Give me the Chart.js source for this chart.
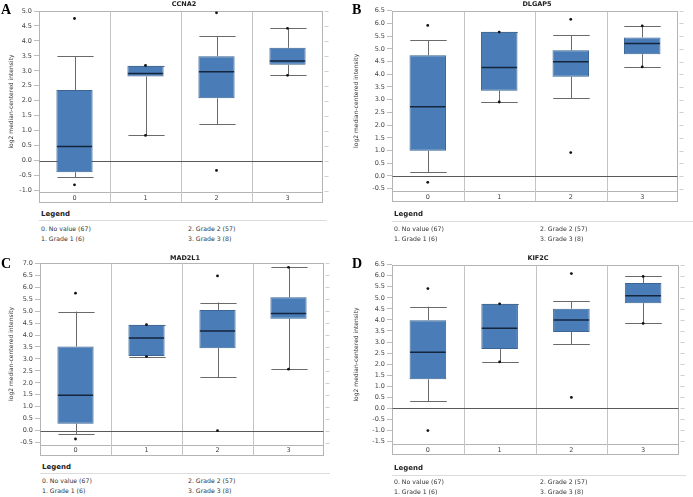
<!DOCTYPE html>
<html><head><meta charset="utf-8">
<script src="https://cdn.jsdelivr.net/npm/chart.js@4/dist/chart.umd.min.js"></script>
<style>
body{margin:0;background:#fff;width:693px;height:497px;overflow:hidden;position:relative;font-family:"DejaVu Sans",sans-serif;}
canvas{position:absolute;}
.letter{position:absolute;font-family:"Liberation Serif",serif;font-weight:bold;font-size:14px;line-height:14px;color:#000;}
.title{position:absolute;font-weight:bold;font-size:6.5px;color:#222;transform:translateX(-50%);white-space:nowrap;line-height:8px;}
.leghead{position:absolute;font-weight:bold;font-size:7px;color:#222;line-height:8px;white-space:nowrap;}
.legline{position:absolute;height:1px;background:#dcdcdc;}
.legitem{position:absolute;font-size:6.2px;color:#333;line-height:8px;white-space:nowrap;}
</style></head>
<body>
<script>
// ---------- data ----------
const categories = ['0', '1', '2', '3'];
const legendLabels = ['0. No value (67)', '1. Grade 1 (6)', '2. Grade 2 (57)', '3. Grade 3 (8)'];
const yAxisTitle = 'log2 median-centered intensity';
const geneNames = ['CCNA2', 'DLGAP5', 'MAD2L1', 'KIF2C'];
const panelLetters = ['A', 'B', 'C', 'D'];

// CCNA2
const ccna2Max    = [4.75, 3.18, 4.94, 4.42];
const ccna2Upper  = [3.48, 3.17, 4.15, 4.42];
const ccna2Q3     = [2.36, 3.17, 3.49, 3.77];
const ccna2Median = [0.47, 2.91, 2.97, 3.33];
const ccna2Q1     = [-0.39, 2.81, 2.08, 3.20];
const ccna2Lower  = [-0.55, 0.84, 1.21, 2.85];
const ccna2Min    = [-0.81, 0.84, -0.33, 2.85];

// DLGAP5
const dlgap5Max    = [5.92, 5.66, 6.16, 5.90];
const dlgap5Upper  = [5.34, 5.67, 5.53, 5.90];
const dlgap5Q3     = [4.75, 5.67, 4.94, 5.45];
const dlgap5Median = [2.72, 4.27, 4.49, 5.21];
const dlgap5Q1     = [0.99, 3.35, 3.90, 4.79];
const dlgap5Lower  = [0.16, 2.91, 3.06, 4.29];
const dlgap5Min    = [-0.25, 2.91, 0.92, 4.29];

// MAD2L1
const mad2l1Max    = [5.75, 4.43, 6.47, 6.83];
const mad2l1Upper  = [4.98, 4.43, 5.36, 6.83];
const mad2l1Q3     = [3.52, 4.43, 5.05, 5.58];
const mad2l1Median = [1.48, 3.87, 4.17, 4.90];
const mad2l1Q1     = [0.29, 3.12, 3.45, 4.68];
const mad2l1Lower  = [-0.14, 3.10, 2.23, 2.57];
const mad2l1Min    = [-0.35, 3.10, 0.00, 2.57];

// KIF2C
const kif2cMax    = [5.42, 4.73, 6.10, 5.97];
const kif2cUpper  = [4.60, 4.73, 4.85, 5.97];
const kif2cQ3     = [3.99, 4.73, 4.51, 5.67];
const kif2cMedian = [2.54, 3.62, 4.00, 5.09];
const kif2cQ1     = [1.31, 2.68, 3.45, 4.76];
const kif2cLower  = [0.31, 2.10, 2.90, 3.84];
const kif2cMin    = [-1.01, 2.10, 0.49, 3.84];

// y-axis ranges
const yMins = [-1.05, -0.59, -0.58, -1.63];
const yMaxs = [5.0, 6.5, 7.0, 6.5];

// ---------- layout (styling only) ----------
const layouts = [
  {ox:0,   oy:0,   left:39,  right:323, top:11,    bottom:203, letterX:1,   letterY:3,   titleX:184, titleY:0,
   legY:210, lineY:220, lineR:327, itemY1:225, itemY2:235, col2:188},
  {ox:345, oy:0,   left:392, right:678, top:10.7,  bottom:202, letterX:352, letterY:3,   titleX:537, titleY:0,
   legY:210, lineY:220.5, lineR:693, itemY1:225, itemY2:235, col2:540},
  {ox:0,   oy:248, left:40,  right:324, top:263.3, bottom:455.5, letterX:1, letterY:257, titleX:185, titleY:254,
   legY:463, lineY:473, lineR:330, itemY1:477, itemY2:487, col2:188},
  {ox:345, oy:248, left:392, right:679, top:264.7, bottom:455.3, letterX:352, letterY:257, titleX:538, titleY:254,
   legY:464, lineY:474.5, lineR:686, itemY1:478, itemY2:488, col2:540}
];
const ROW_H = 11;

const stats = [
  {max:ccna2Max, upper:ccna2Upper, q3:ccna2Q3, median:ccna2Median, q1:ccna2Q1, lower:ccna2Lower, min:ccna2Min},
  {max:dlgap5Max, upper:dlgap5Upper, q3:dlgap5Q3, median:dlgap5Median, q1:dlgap5Q1, lower:dlgap5Lower, min:dlgap5Min},
  {max:mad2l1Max, upper:mad2l1Upper, q3:mad2l1Q3, median:mad2l1Median, q1:mad2l1Q1, lower:mad2l1Lower, min:mad2l1Min},
  {max:kif2cMax, upper:kif2cUpper, q3:kif2cQ3, median:kif2cMedian, q1:kif2cQ1, lower:kif2cLower, min:kif2cMin}
];

const FONT = '"DejaVu Sans", sans-serif';

const boxPlugin = {
  id: 'boxplotDecor',
  beforeDatasetsDraw(chart, args, opts) {
    const {ctx, chartArea: a, scales: {x, y}} = chart;
    const s = opts.stats;
    const meta = chart.getDatasetMeta(2);
    ctx.save();
    ctx.lineWidth = 1;
    // frame
    ctx.strokeStyle = '#b4b4b4';
    const fb = Math.round(x.bottom) - 0.5;
    const L = Math.round(a.left) + 0.5, R = Math.round(a.right) - 0.5, T = Math.round(a.top) + 0.5;
    ctx.strokeRect(L, T, R - L, fb - T);
    // category row separator
    const sep = Math.round(a.bottom) + 0.5;
    ctx.beginPath(); ctx.moveTo(L, sep); ctx.lineTo(R, sep); ctx.stroke();
    // category dividers
    ctx.strokeStyle = '#c4c4c4';
    for (let i = 0; i < categories.length - 1; i++) {
      const px = Math.round((x.getPixelForValue(i) + x.getPixelForValue(i + 1)) / 2) + 0.5;
      ctx.beginPath(); ctx.moveTo(px, T); ctx.lineTo(px, fb); ctx.stroke();
    }
    // right-side tick marks
    ctx.strokeStyle = '#cfcfcf';
    y.ticks.forEach(t => {
      const py = Math.round(y.getPixelForValue(t.value)) + 0.5;
      ctx.beginPath(); ctx.moveTo(R + 2, py); ctx.lineTo(R + 6, py); ctx.stroke();
    });
    // zero line
    const zy = Math.round(y.getPixelForValue(0)) + 0.5;
    ctx.strokeStyle = '#5a5a5a';
    ctx.beginPath(); ctx.moveTo(L, zy); ctx.lineTo(R, zy); ctx.stroke();
    // whiskers and caps
    ctx.strokeStyle = '#6a6a6a';
    for (let i = 0; i < categories.length; i++) {
      const cx = Math.round(x.getPixelForValue(i)) + 0.5;
      const hw = meta.data[i].width / 2;
      const yU = y.getPixelForValue(s.upper[i]), yQ3 = y.getPixelForValue(s.q3[i]);
      const yLo = y.getPixelForValue(s.lower[i]), yQ1 = y.getPixelForValue(s.q1[i]);
      ctx.beginPath();
      ctx.moveTo(cx, yQ3); ctx.lineTo(cx, yU);
      ctx.moveTo(cx, yQ1); ctx.lineTo(cx, yLo);
      ctx.moveTo(cx - hw, Math.round(yU) + 0.5); ctx.lineTo(cx + hw, Math.round(yU) + 0.5);
      ctx.moveTo(cx - hw, Math.round(yLo) + 0.5); ctx.lineTo(cx + hw, Math.round(yLo) + 0.5);
      ctx.stroke();
    }
    ctx.restore();
  },
  afterDatasetsDraw(chart, args, opts) {
    const {ctx, scales: {x, y}} = chart;
    const s = opts.stats;
    const meta = chart.getDatasetMeta(2);
    ctx.save();
    ctx.strokeStyle = '#14253d';
    ctx.lineWidth = 1.5;
    for (let i = 0; i < categories.length; i++) {
      const cx = x.getPixelForValue(i);
      const hw = meta.data[i].width / 2 - 0.5;
      const ym = y.getPixelForValue(s.median[i]);
      ctx.beginPath(); ctx.moveTo(cx - hw, ym); ctx.lineTo(cx + hw, ym); ctx.stroke();
    }
    ctx.restore();
  }
};

function makePanel(idx) {
  const L = layouts[idx];
  const s = stats[idx];
  const cw = 348, ch = Math.ceil(L.bottom - L.oy) + 3;
  const canvas = document.createElement('canvas');
  canvas.width = cw; canvas.height = ch;
  canvas.style.left = L.ox + 'px'; canvas.style.top = L.oy + 'px';
  canvas.style.width = cw + 'px'; canvas.style.height = ch + 'px';
  document.body.appendChild(canvas);

  const padLeft = 7;
  const yW = L.left - L.ox - padLeft;
  const padTop = L.top - L.oy;
  const padRight = L.ox + cw - L.right;
  const padBottom = L.oy + ch - L.bottom;

  new Chart(canvas, {
    type: 'bar',
    data: {
      labels: categories,
      datasets: [
        {type: 'line', data: s.max, showLine: false, pointRadius: 1.4, pointBackgroundColor: '#111',
         pointBorderWidth: 0, borderColor: '#111', order: 0},
        {type: 'line', data: s.min, showLine: false, pointRadius: 1.4, pointBackgroundColor: '#111',
         pointBorderWidth: 0, borderColor: '#111', order: 0},
        {type: 'bar', data: categories.map((c, i) => [s.q1[i], s.q3[i]]),
         backgroundColor: '#4a7db7', borderColor: '#3a6594', borderWidth: 1, borderSkipped: false,
         barPercentage: 0.51, categoryPercentage: 1, order: 1}
      ]
    },
    options: {
      responsive: false, animation: false, devicePixelRatio: 1,
      layout: {padding: {left: padLeft, top: padTop, right: padRight, bottom: padBottom}},
      plugins: {legend: {display: false}, tooltip: {enabled: false}, title: {display: false},
                boxplotDecor: {stats: s}},
      scales: {
        x: {
          type: 'category', offset: true,
          grid: {display: false, drawTicks: false, tickLength: 0}, border: {display: false},
          ticks: {font: {family: FONT, size: 6.5}, color: '#444', padding: 2, maxRotation: 0, autoSkip: false},
          afterFit: sc => { sc.height = ROW_H; }
        },
        y: {
          min: yMins[idx], max: yMaxs[idx],
          grid: {drawOnChartArea: false, drawTicks: true, tickLength: 5, color: '#bdbdbd'},
          border: {display: false},
          ticks: {stepSize: 0.5, includeBounds: false, callback: v => Number(v).toFixed(1),
                  font: {family: FONT, size: 6.5}, color: '#444', padding: 2},
          title: {display: true, text: yAxisTitle, font: {family: FONT, size: 6}, color: '#333',
                  padding: {top: 1, bottom: 0}},
          afterFit: sc => { sc.width = yW; }
        }
      }
    },
    plugins: [boxPlugin]
  });

  const add = (cls, text, x, y, extra) => {
    const d = document.createElement('div');
    d.className = cls; d.textContent = text;
    d.style.left = x + 'px'; d.style.top = y + 'px';
    if (extra) Object.assign(d.style, extra);
    document.body.appendChild(d);
    return d;
  };
  add('letter', panelLetters[idx], L.letterX, L.letterY);
  add('title', geneNames[idx], L.titleX, L.titleY);
  add('leghead', 'Legend', L.left + 2, L.legY);
  add('legline', '', L.left, L.lineY, {width: (L.lineR - L.left) + 'px'});
  add('legitem', legendLabels[0], L.left + 2, L.itemY1);
  add('legitem', legendLabels[1], L.left + 2, L.itemY2);
  add('legitem', legendLabels[2], L.col2, L.itemY1);
  add('legitem', legendLabels[3], L.col2, L.itemY2);
}

for (let i = 0; i < 4; i++) makePanel(i);
</script>
</body></html>
